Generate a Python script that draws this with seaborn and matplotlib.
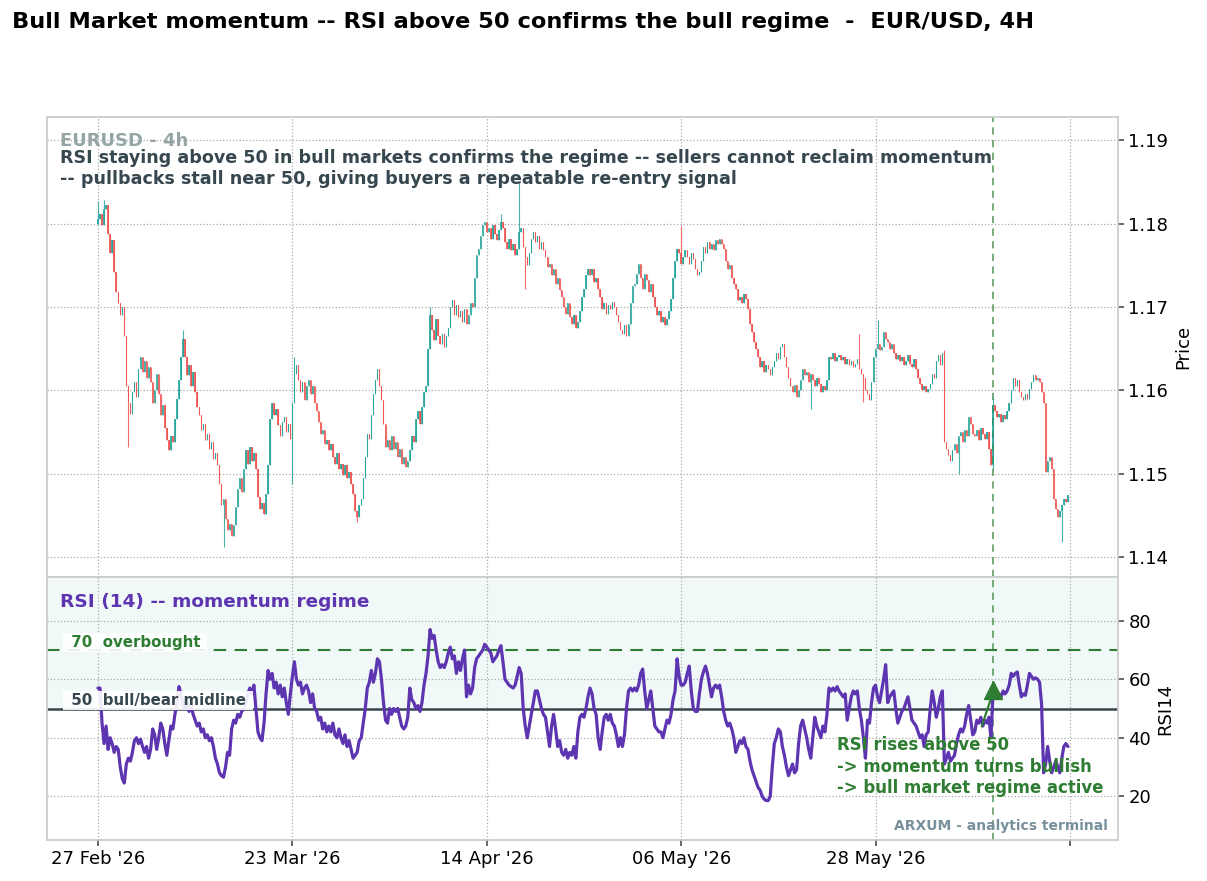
import numpy as np
import pandas as pd
import seaborn as sns
import matplotlib
matplotlib.use("Agg")
from matplotlib import pyplot as plt

# 4h closes, EUR/USD (bar index 0 = 27 Feb '26)
closes = [
    1.1805, 1.1812, 1.1798, 1.1817, 1.1822, 1.1788, 1.1765, 1.1780, 1.1742, 1.1718,
    1.1705, 1.1690, 1.1700, 1.1665, 1.1605, 1.1585, 1.1572, 1.1598, 1.1610, 1.1592,
    1.1625, 1.1640, 1.1622, 1.1635, 1.1615, 1.1628, 1.1610, 1.1585, 1.1600, 1.1620,
    1.1595, 1.1570, 1.1582, 1.1555, 1.1540, 1.1528, 1.1545, 1.1538, 1.1565, 1.1590,
    1.1612, 1.1640, 1.1662, 1.1640, 1.1618, 1.1630, 1.1605, 1.1622, 1.1598, 1.1580,
    1.1570, 1.1552, 1.1560, 1.1540, 1.1548, 1.1530, 1.1538, 1.1518, 1.1525, 1.1510,
    1.1488, 1.1462, 1.1470, 1.1445, 1.1432, 1.1440, 1.1425, 1.1438, 1.1460, 1.1482,
    1.1495, 1.1478, 1.1505, 1.1528, 1.1512, 1.1532, 1.1515, 1.1525, 1.1505, 1.1472,
    1.1458, 1.1465, 1.1452, 1.1475, 1.1510, 1.1565, 1.1585, 1.1570, 1.1578, 1.1558,
    1.1545, 1.1562, 1.1568, 1.1550, 1.1560, 1.1542, 1.1585, 1.1620, 1.1630, 1.1612,
    1.1598, 1.1610, 1.1588, 1.1605, 1.1612, 1.1595, 1.1605, 1.1585, 1.1575, 1.1562,
    1.1548, 1.1552, 1.1535, 1.1540, 1.1528, 1.1535, 1.1520, 1.1512, 1.1525, 1.1505,
    1.1512, 1.1498, 1.1510, 1.1495, 1.1502, 1.1488, 1.1475, 1.1455, 1.1448, 1.1462,
    1.1470, 1.1495, 1.1520, 1.1548, 1.1542, 1.1570, 1.1595, 1.1612, 1.1625, 1.1605,
    1.1588, 1.1560, 1.1532, 1.1540, 1.1528, 1.1545, 1.1530, 1.1538, 1.1520, 1.1530,
    1.1512, 1.1520, 1.1508, 1.1515, 1.1528, 1.1545, 1.1538, 1.1565, 1.1575, 1.1560,
    1.1580, 1.1598, 1.1605, 1.1650, 1.1690, 1.1672, 1.1660, 1.1685, 1.1665, 1.1655,
    1.1668, 1.1652, 1.1665, 1.1675, 1.1700, 1.1708, 1.1690, 1.1702, 1.1688, 1.1695,
    1.1682, 1.1698, 1.1680, 1.1690, 1.1705, 1.1700, 1.1735, 1.1762, 1.1770, 1.1785,
    1.1798, 1.1802, 1.1790, 1.1795, 1.1782, 1.1798, 1.1788, 1.1780, 1.1792, 1.1802,
    1.1795, 1.1778, 1.1770, 1.1782, 1.1768, 1.1775, 1.1762, 1.1770, 1.1790, 1.1795,
    1.1772, 1.1760, 1.1750, 1.1765, 1.1782, 1.1790, 1.1778, 1.1785, 1.1770, 1.1778,
    1.1768, 1.1760, 1.1748, 1.1752, 1.1738, 1.1745, 1.1728, 1.1735, 1.1720, 1.1712,
    1.1700, 1.1692, 1.1705, 1.1688, 1.1680, 1.1690, 1.1675, 1.1682, 1.1695, 1.1712,
    1.1722, 1.1738, 1.1745, 1.1738, 1.1745, 1.1730, 1.1735, 1.1722, 1.1712, 1.1698,
    1.1705, 1.1692, 1.1702, 1.1698, 1.1706, 1.1700, 1.1690, 1.1682, 1.1672, 1.1668,
    1.1678, 1.1665, 1.1680, 1.1705, 1.1725, 1.1728, 1.1740, 1.1752, 1.1735, 1.1722,
    1.1740, 1.1732, 1.1718, 1.1728, 1.1712, 1.1700, 1.1690, 1.1695, 1.1682, 1.1688,
    1.1678, 1.1685, 1.1695, 1.1710, 1.1735, 1.1755, 1.1770, 1.1765, 1.1752, 1.1760,
    1.1768, 1.1760, 1.1752, 1.1765, 1.1758, 1.1745, 1.1738, 1.1742, 1.1755, 1.1772,
    1.1765, 1.1778, 1.1770, 1.1775, 1.1768, 1.1780, 1.1776, 1.1782, 1.1775, 1.1770,
    1.1755, 1.1745, 1.1750, 1.1735, 1.1728, 1.1722, 1.1708, 1.1712, 1.1705, 1.1715,
    1.1710, 1.1698, 1.1680, 1.1670, 1.1658, 1.1650, 1.1640, 1.1628, 1.1635, 1.1622,
    1.1630, 1.1625, 1.1618, 1.1628, 1.1635, 1.1645, 1.1638, 1.1652, 1.1655, 1.1640,
    1.1628, 1.1615, 1.1605, 1.1598, 1.1606, 1.1592, 1.1600, 1.1612, 1.1625, 1.1618,
    1.1622, 1.1610, 1.1620, 1.1612, 1.1605, 1.1615, 1.1608, 1.1598, 1.1605, 1.1600,
    1.1612, 1.1640, 1.1638, 1.1645, 1.1635, 1.1640, 1.1642, 1.1636, 1.1640, 1.1632,
    1.1638, 1.1630, 1.1635, 1.1628, 1.1632, 1.1638, 1.1625, 1.1620, 1.1615, 1.1600,
    1.1595, 1.1588, 1.1610, 1.1640, 1.1650, 1.1655, 1.1648, 1.1652, 1.1670, 1.1662,
    1.1658, 1.1650, 1.1655, 1.1645, 1.1638, 1.1642, 1.1635, 1.1640, 1.1630, 1.1635,
    1.1642, 1.1632, 1.1628, 1.1638, 1.1625, 1.1615, 1.1608, 1.1600, 1.1605, 1.1598,
    1.1602, 1.1608, 1.1620, 1.1615, 1.1635, 1.1642, 1.1630, 1.1645, 1.1538, 1.1530,
    1.1522, 1.1515, 1.1528, 1.1535, 1.1525, 1.1545, 1.1550, 1.1538, 1.1552, 1.1545,
    1.1568, 1.1560, 1.1548, 1.1545, 1.1552, 1.1540, 1.1555, 1.1548, 1.1542, 1.1550,
    1.1530, 1.1510, 1.1582, 1.1575, 1.1568, 1.1572, 1.1562, 1.1570, 1.1565, 1.1575,
    1.1585, 1.1600, 1.1615, 1.1605, 1.1612, 1.1598, 1.1592, 1.1588, 1.1595, 1.1590,
    1.1602, 1.1610, 1.1618, 1.1612, 1.1615, 1.1610, 1.1598, 1.1585, 1.1502, 1.1515,
    1.1520, 1.1505, 1.1470, 1.1458, 1.1448, 1.1455, 1.1462, 1.1470, 1.1466, 1.1474,
]
first_open = 1.1800

# longer wicks that stand out in the picture
wick_highs = {0: 1.1827, 3: 1.1828, 5: 1.1800, 42: 1.1672, 97: 1.1640, 164: 1.1700,
              199: 1.1812, 208: 1.1850, 288: 1.1797, 376: 1.1668, 385: 1.1684,
              418: 1.1648, 442: 1.1592}
wick_lows = {15: 1.1532, 62: 1.1412, 96: 1.1487, 128: 1.1442, 211: 1.1722,
             352: 1.1577, 378: 1.1586, 425: 1.1500, 442: 1.1505, 476: 1.1418}

rsi_values = [
    57, 57, 45, 38, 44, 36, 40, 38, 35, 37,
    36, 30, 26, 24.5, 31, 33, 32, 35, 39, 40,
    38, 39.5, 37, 35, 37, 33, 36, 43, 41, 36,
    40, 45, 43, 38, 34, 39, 44, 43, 48, 52,
    57.5, 55, 51, 50, 52, 49, 51, 48, 46, 44,
    45, 42, 43, 40, 41, 39, 40, 37, 33, 31,
    28, 27, 26.5, 30, 35, 34, 43, 46, 45, 48,
    47, 49, 50, 52, 55, 57, 55, 58, 50, 42,
    40, 39, 45, 55, 63, 60, 62, 57, 59, 55,
    58, 54, 57, 52, 48, 55, 61, 66, 60, 58,
    59, 55, 57, 58, 56, 52, 55, 50, 49, 46,
    47, 43, 45, 42, 44, 42, 45, 41, 40, 43,
    40, 38, 41, 37, 39, 36, 33, 34, 35, 39,
    40, 45, 50, 57, 59, 63, 59, 62, 67, 66,
    60, 52, 46, 45, 50, 48, 50, 49, 50, 47,
    44, 43, 44, 47, 57, 53, 52, 50, 51, 49,
    52, 58, 62, 68, 77, 74, 75, 70, 66, 64,
    65, 64, 66, 69, 71, 67, 68, 62, 66, 63,
    67, 70, 54, 58, 55, 57, 64, 67, 68, 69,
    70, 72, 71, 70, 69, 66, 67, 68, 70, 71.5,
    66, 60, 59, 58, 57.5, 57, 58, 61, 64, 62,
    50, 44, 40, 44, 48, 52, 56, 56, 53, 50,
    48, 47, 42, 37, 44, 48, 43, 37, 39, 35,
    34, 36, 33, 35, 34, 37, 33, 42, 47, 48,
    47, 50, 54, 57, 55, 50, 48, 40, 36, 42,
    47, 48, 46, 48, 45, 44, 41, 37, 40, 37,
    41, 50, 56, 57, 56, 57, 56, 58, 62, 63.5,
    56, 50, 53, 56, 50, 44, 43, 42, 42, 40,
    43, 46, 45, 48, 53, 56, 67, 61, 58, 58,
    59, 62, 64.5, 56, 50, 49, 49, 55, 60, 62.5,
    64.5, 62, 58, 54, 57, 58, 57, 58, 54, 49,
    46, 44, 45, 43, 40, 35, 37, 39, 38, 40,
    37, 36, 32, 29, 27, 25, 23, 22, 20, 19,
    18.5, 18.5, 20, 30, 38, 40, 43, 42, 37, 34,
    30, 27, 29, 31, 28, 29, 38, 44, 46, 43,
    40, 36, 33, 40, 47, 44, 42, 40, 44, 42,
    48, 57, 56, 57, 56, 57.5, 56, 55, 54, 55,
    46, 50, 54, 56, 55, 56, 50, 46, 40, 33,
    46, 45, 52, 57, 58, 54, 52, 56, 60, 65,
    52, 54, 55, 56, 50, 45, 47, 49, 50, 52,
    54, 50, 46, 45, 44, 42, 40, 41, 37, 41,
    42, 50, 56, 52, 47, 50, 54, 56, 31, 33,
    35, 32, 33, 34, 38, 41, 43, 42, 44, 48,
    51, 46, 41, 42, 46, 45, 47, 44, 46, 45,
    47, 40, 55, 56, 55, 55, 54, 56, 55, 56,
    58, 62, 61, 62, 62.5, 58, 54, 55, 54.5, 58,
    62, 61, 60, 60.5, 60, 59, 51.5, 28, 31, 37,
    32, 28, 30, 32, 30, 28, 33, 37, 38, 37,
]

tick_bars = [0, 96, 192, 288, 384, 480]
tick_labels = ["27 Feb '26", "23 Mar '26", "14 Apr '26", "06 May '26", "28 May '26", ""]
signal_bar = 442
signal_rsi = 56.5

assert len(closes) == len(rsi_values) == 480

UP, DOWN = '#26a69a', '#ef5350'
PURPLE, GREEN, SLATE = '#5e35b1', '#2e7d32', '#37474f'

df = pd.DataFrame({'close': closes, 'rsi': rsi_values})
df['bar'] = np.arange(len(df))
df['open'] = [first_open] + closes[:-1]
df['body_lo'] = df[['open', 'close']].min(axis=1)
df['body_hi'] = df[['open', 'close']].max(axis=1)
df['high'] = df['body_hi']
df['low'] = df['body_lo']
for k, v in wick_highs.items():
    df.loc[k, 'high'] = max(df.loc[k, 'high'], v)
for k, v in wick_lows.items():
    df.loc[k, 'low'] = min(df.loc[k, 'low'], v)
df['color'] = np.where(df['close'] >= df['open'], UP, DOWN)

sns.set_theme(style='whitegrid')
plt.rcParams['font.family'] = ['DejaVu Sans']
plt.rcParams['grid.linestyle'] = ':'
plt.rcParams['grid.color'] = '#aaaaaa'
plt.rcParams['grid.linewidth'] = 0.9
for key in ('text.color', 'axes.labelcolor', 'xtick.color', 'ytick.color'):
    plt.rcParams[key] = 'black'

fig = plt.figure(figsize=(12.07, 8.81), dpi=100)
ax = fig.add_axes([0.0389, 0.3451, 0.8873, 0.5221])
ax2 = fig.add_axes([0.0389, 0.0465, 0.8873, 0.2986], sharex=ax)

# candles
ax.vlines(df['bar'], df['low'], df['high'], colors=df['color'], linewidth=0.8, alpha=0.85)
body = (df['body_hi'] - df['body_lo']).clip(lower=0.00004)
ax.bar(df['bar'], body, bottom=df['body_lo'], width=0.7, color=df['color'],
       alpha=0.85, linewidth=0)
ax.set_ylim(1.1376, 1.1928)
ax.set_yticks([1.14, 1.15, 1.16, 1.17, 1.18, 1.19])
ax.yaxis.set_major_formatter(matplotlib.ticker.FormatStrFormatter('%.2f'))
ax.set_ylabel('Price', fontsize=13)
ax.text(0.012, 0.948, 'EURUSD - 4h', transform=ax.transAxes, fontsize=13,
        fontweight='bold', color='#95a5a6', va='center')
ax.text(0.0125, 0.93, 'RSI staying above 50 in bull markets confirms the regime -- sellers cannot reclaim momentum\n'
        '-- pullbacks stall near 50, giving buyers a repeatable re-entry signal',
        transform=ax.transAxes, fontsize=12.6, fontweight='bold', color=SLATE, va='top',
        linespacing=1.2)

# RSI panel
ax2.axhspan(50, 95, color='#e0f2f1', alpha=0.45, lw=0, zorder=0)
sns.lineplot(data=df, x='bar', y='rsi', ax=ax2, color=PURPLE, linewidth=2.3, zorder=3)
ax2.axhline(70, color=GREEN, lw=1.5, ls=(0, (6, 4)), zorder=2)
ax2.axhline(50, color=SLATE, lw=1.8, zorder=2)
ax2.set_ylim(5, 95)
ax2.set_yticks([20, 40, 60, 80])
ax2.set_ylabel('RSI14', fontsize=13)
ax2.text(0.012, 0.905, 'RSI (14) -- momentum regime', transform=ax2.transAxes, fontsize=13.3,
         fontweight='bold', color=PURPLE, va='center')
ax2.text(-16, 72.6, ' 70  overbought ', fontsize=10.8, fontweight='bold', color=GREEN, va='center',
         bbox=dict(facecolor='white', edgecolor='none', pad=1.5, alpha=0.9), zorder=4)
ax2.text(-16, 52.8, ' 50  bull/bear midline ', fontsize=10.8, fontweight='bold', color=SLATE,
         va='center', bbox=dict(facecolor='white', edgecolor='none', pad=1.5, alpha=0.9), zorder=4)

# bullish regime signal
for a in (ax, ax2):
    a.axvline(signal_bar, color=GREEN, lw=1.3, ls=(0, (4, 3)), alpha=0.7, zorder=1)
ax2.annotate('', xy=(signal_bar, signal_rsi - 1), xytext=(436, 43),
             arrowprops=dict(arrowstyle='-', color=GREEN, lw=1.6), zorder=5)
ax2.plot([signal_bar], [signal_rsi], marker='^', markersize=13, color=GREEN, zorder=6)
ax2.text(365, 40.5, 'RSI rises above 50\n-> momentum turns bullish\n-> bull market regime active',
         fontsize=11.9, fontweight='bold', color=GREEN, va='top', linespacing=1.25, zorder=5)
ax2.text(0.991, 0.025, 'ARXUM - analytics terminal', transform=ax2.transAxes, ha='right',
         va='bottom', fontsize=10, fontweight='bold', color='#78909c')

ax2.set_xlim(-25.2, 503.7)
ax2.set_xticks(tick_bars)
ax2.set_xticklabels(tick_labels, fontsize=13)
ax2.set_xlabel('')

for a in (ax, ax2):
    a.yaxis.tick_right()
    a.yaxis.set_label_position('right')
    a.tick_params(axis='y', labelsize=13, length=4, color='#555555', right=True)
    a.set_facecolor('white')
    for s in a.spines.values():
        s.set_color('#cccccc')
ax2.tick_params(axis='x', length=4, color='#555555', bottom=True)
ax.tick_params(axis='x', labelbottom=False, length=0)
ax.set_xlabel('')

fig.text(0.0099, 0.975, 'Bull Market momentum -- RSI above 50 confirms the bull regime  -  EUR/USD, 4H',
         fontsize=16.2, fontweight='bold', va='center', color='black')

fig.savefig('out.png', dpi=100)
